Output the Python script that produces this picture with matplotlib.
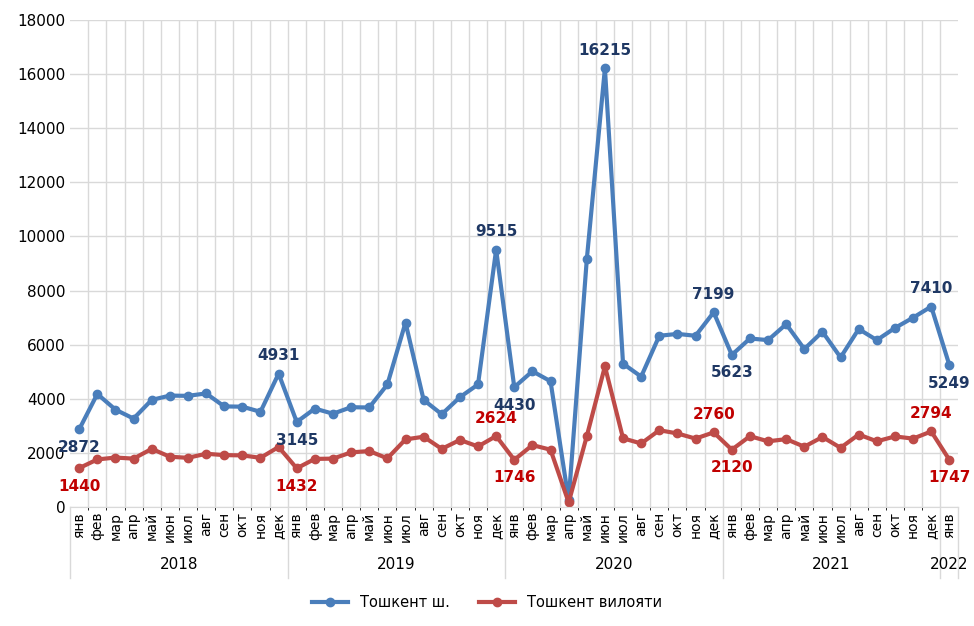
import matplotlib
matplotlib.use("Agg")
import matplotlib.pyplot as plt

months = ["янв","фев","мар","апр","май","июн","июл","авг","сен","окт","ноя","дек"]
labels = months*4 + ["янв"]
years = ["2018","2019","2020","2021","2022"]
city = [2872,4180,3600,3270,3960,4120,4110,4200,3720,3710,3520,4931,
        3145,3640,3450,3690,3680,4530,6820,3960,3430,4060,4530,9515,
        4430,5020,4650,250,9150,16215,5300,4820,6330,6400,6330,7199,
        5623,6230,6170,6760,5840,6480,5530,6580,6170,6620,7000,7410,5249]
region = [1440,1760,1830,1790,2150,1860,1820,1970,1920,1910,1820,2220,
          1432,1780,1790,2020,2070,1800,2500,2600,2150,2480,2240,2624,
          1746,2290,2120,170,2620,5200,2540,2350,2840,2720,2530,2760,
          2120,2620,2430,2510,2230,2590,2190,2680,2430,2610,2530,2794,1747]
city_lab = {0:(2872,-1),11:(4931,1),12:(3145,-1),23:(9515,1),24:(4430,-1),29:(16215,1),35:(7199,1),36:(5623,-1),47:(7410,1),48:(5249,-1)}
reg_lab = {0:(1440,-1),12:(1432,-1),23:(2624,1),24:(1746,-1),35:(2760,1),36:(2120,-1),47:(2794,1),48:(1747,-1)}
blue="#4a7ebb"; red="#be4b48"

fig = plt.figure(figsize=(9.74,6.26), dpi=100)
ax = fig.add_axes([0.072,0.19,0.912,0.778])
x = list(range(len(labels)))
ax.plot(x, city, color=blue, lw=3, marker="o", ms=6, label="Тошкент ш.")
ax.plot(x, region, color=red, lw=3, marker="o", ms=6, label="Тошкент вилояти")
for i,(v,d) in city_lab.items():
    ax.annotate(str(v),(i,v),xytext=(0,13*d),textcoords="offset points",ha="center",va="center",
                fontsize=11,fontweight="bold",color="#1f3864")
for i,(v,d) in reg_lab.items():
    ax.annotate(str(v),(i,v),xytext=(0,13*d),textcoords="offset points",ha="center",va="center",
                fontsize=11,fontweight="bold",color="#c00000")
ax.set_xlim(-0.5,len(labels)-0.5)
ax.set_ylim(0,18000)
ax.set_yticks(range(0,18001,2000))
ax.tick_params(axis="y",labelsize=11,length=0)
ax.set_xticks(x)
ax.set_xticklabels(labels,rotation=90,fontsize=10)
ax.tick_params(axis="x",length=0)
ax.set_xticks([i+0.5 for i in x[:-1]],minor=True)
ax.grid(True,which="minor",axis="x",color="#d9d9d9",lw=1)
ax.grid(True,which="major",axis="y",color="#d9d9d9",lw=1)
ax.set_axisbelow(True)
for s in ["top","right","left"]:
    ax.spines[s].set_visible(False)
ax.spines["bottom"].set_color("#d9d9d9")
starts=[0,12,24,36,48]
tr = ax.get_xaxis_transform()
for k,y in enumerate(years):
    s=starts[k]; e=min(s+12,len(labels))
    ax.text((s+e-1)/2,-0.118,y,transform=tr,ha="center",va="center",fontsize=11)
    ax.plot([s-0.5,s-0.5],[0,-0.146],transform=tr,color="#d9d9d9",lw=1,clip_on=False)
ax.plot([len(labels)-0.5]*2,[0,-0.146],transform=tr,color="#d9d9d9",lw=1,clip_on=False)
fig.legend(loc="center",bbox_to_anchor=(0.5,0.038),ncol=2,frameon=False,fontsize=10.5,
           handlelength=2.5,columnspacing=2)
fig.savefig("out.png")
